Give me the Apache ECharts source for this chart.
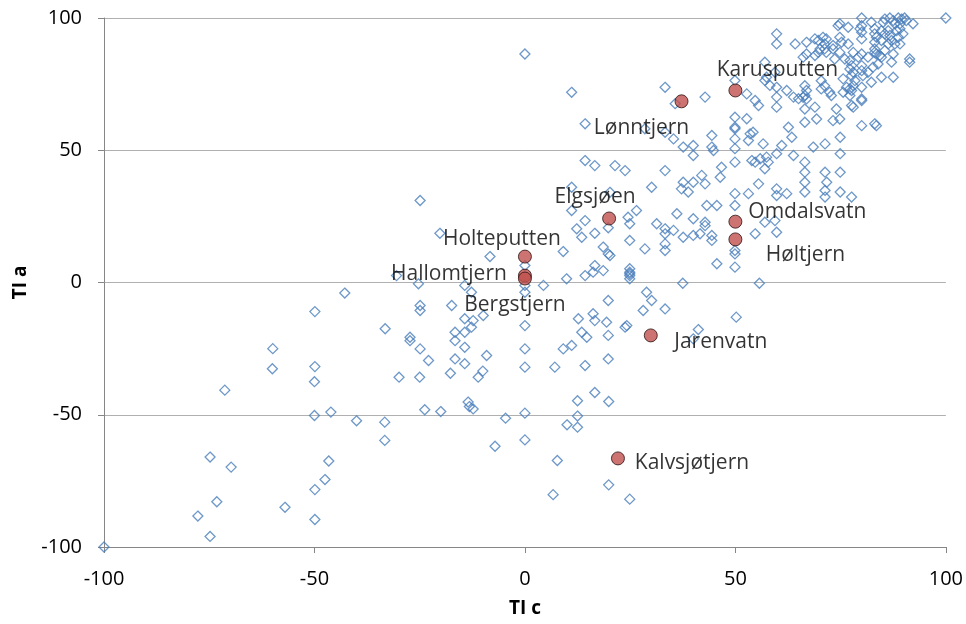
<!DOCTYPE html>
<html><head><meta charset="utf-8">
<script src="https://cdn.jsdelivr.net/npm/echarts@6/dist/echarts.min.js"></script>
<style>html,body{margin:0;padding:0;background:#fff}#c{width:966px;height:624px}</style>
</head><body><div id="c"></div>
<script>
// Axis ticks
const xTicks = [-100, -50, 0, 50, 100];
const yTicks = [-100, -50, 0, 50, 100];
const xName = 'TI c';
const yName = 'TI a';

// Named lakes (red points)
const lakeNames = ['Karusputten','Lønntjern','Elgsjøen','Omdalsvatn','Høltjern','Holteputten','Hallomtjern','Bergstjern','Jarenvatn','Kalvsjøtjern'];
const lakeTIc = [50, 37.2, 20, 50, 50, 0, 0, 0, 29.9, 22.1];
const lakeTIa = [72.6, 68.5, 24.2, 23, 16.3, 9.8, 2.6, 1.5, -20, -66.5];

// Other lakes (blue diamonds): [TI c, TI a]
const otherLakes = [
[80,100],[85.5,99.6],[86.7,100],[87.5,99],[88.7,100],[89.5,99.6],[90.2,100],[90.6,99],[92.2,97.8],[89.1,97.8],[87.9,97.8],[85.1,98.4],[82.3,98.4],[80,97.1],[79.6,95.9],[76.8,96.5],[74.8,97.8],[74.4,97.1],[83.1,95.9],[100,100],
[80,94.6],[80,92.1],[83.1,94],[83.5,92.7],[84.7,95.2],[85.5,94],[86.3,95.2],[86.7,93.4],[88.3,95.2],[89.1,95.9],[89.8,94],[88.7,92.7],[87.1,91.5],[84.7,91.5],[83.1,90.8],[86.3,90.2],[87.9,90.2],[89.1,90.2],[66.9,90.8],[68.9,92.1],[69.7,91.5],[70.8,92.7],[71.6,92.1],[71.2,90.2],[74.8,92.7],[75.2,90.8],[76.8,90.2],[73.2,89.6],
[70.1,88.3],[71.2,88.3],[71.6,87],[69.7,87],[73.2,88.3],[74.8,87],[78,87],[80,86.4],[83.1,88.3],[83.1,87],[83.5,86.4],[84.3,85.8],[85.5,87.7],[87.5,86.4],[84.7,85.2],[81.5,85.2],[79.2,85.2],[66.9,86.4],[66.1,85.2],[68.9,85.8],[73.6,84.5],[76,84.5],[77.2,83.9],[91.4,84.5],[91.4,83.3],[87.1,83.3],
[77.6,82],[77.2,80.7],[80,82],[82.7,81.4],[83.9,82.6],[80,80.1],[78,79.5],[77.6,78.2],[80.3,78.2],[81.5,79.5],[84.7,77.6],[87.5,77.6],[78.4,76.3],[82.3,75.7],[75.6,77],
[66.5,74.4],[66.9,72.6],[66.5,70.7],[66.9,69.4],[66.1,70],[70.4,76.3],[70.4,73.2],[71.2,74.4],[72.4,71.9],[72.8,70.7],[75.6,71.9],[76.4,73.8],[77.2,73.2],[77.6,72.6],[78,74.4],[80,73.8],[77.2,70.7],[80,69.4],
[66.5,65.6],[68.9,66.3],[74,65.6],[77.6,66.9],[78,66.3],[80,68.8],[66.5,60.6],[69.3,61.8],[73.2,61.2],[74.8,61.8],[80,59.3],[83.1,60],[83.5,59.3],
[59.8,94],[59.8,90.2],[64.2,90.2],[57,83.3],[57.4,77.6],[59.4,79.5],[57,76.4],
[49.9,76.4],[58.2,74.5],[59.8,73.8],[62.2,72.6],[42.8,70.1],[52.7,71.3],[59.8,70.1],[63.8,70.1],[65,69.5],[35.7,67.6],[54.7,68.8],[55.5,66.9],[59.8,66.3],[49.9,62.5],[52.7,61.9],[49.9,58.7],[49.9,58.1],
[54.2,56.8],[62.6,58.7],[63.4,54.9],[44.4,55.6],[35.3,54.3],[37.6,51.2],[40,51.8],[40,48],[44.4,51.2],[44.8,49.9],[49.9,54.3],[49.9,50.6],[53.1,53.7],[53.5,56.2],[56.6,52.4],[59.8,48.7],[61,51.8],[63.8,48],[37.6,37.9],[40,37.9],[42,40.5],[42.8,37.3],[46.4,39.8],[46.7,43.6],[49.9,45.5],[53.9,46.1],[54.7,45.5],[55.9,46.8],[57.4,47.4],[57.8,45.5],[57,43],[59.8,35.4],[62.2,33.6],[55.5,37.3],[49.9,33.6],[53.1,33.6],
[66.5,45.5],[66.5,41.7],[71.3,41.7],[74.9,41.7],[71.7,37.9],[66.5,37.9],[68.5,51.2],[71.3,52.4],[74.9,54.9],[74.9,48.7],
[0,86.4],[11.1,71.9],[33.3,73.8],[14.3,60],[28.5,58.1],[33.3,56.8],[14.3,46.1],[16.6,44.2],[21.4,44.2],[23.8,42.3],[33.3,42.3],[30.1,36],[11.1,36],[20.2,34.1],
[37.2,35.4],[38.8,34.2],[43.2,29.1],[45.6,29.1],[49.9,29.1],[59.8,32.9],[66.5,34.2],[71.3,34.8],[71.3,32.3],[74.9,34.2],[77.6,32.3],
[36.1,26],[40,24.1],[42.8,22.8],[42.8,21.5],[44.4,17.8],[44.4,15.9],[40,17.8],[41.6,18.4],[37.6,17.1],[35.3,19.7],[33.3,20.3],[33.3,18.4],[33.3,14.6],[33.3,12.1],
[49.9,12.1],[49.9,10.8],[45.6,7.1],[49.9,5.8],[54.7,18.4],[57,22.8],[59.4,23.4],[59.8,19],[37.5,-0.3],[55.7,-0.3],[33.3,-10],[50.2,-13.1],[41.2,-17.8],[40,-21.3],
[-24.9,31],[11.1,27.2],[14.3,23.4],[24.5,24.7],[26.5,27.2],[24.9,22.2],[31.3,22.2],[12.3,20.3],[13.5,17.1],[16.6,18.6],[19.8,20.7],[24.9,15.9],[28.5,12.7],[18.6,13.4],[19.8,10.8],[20.2,10.2],[9.1,11.7],[16.6,6.4],[16.2,3.9],[14.3,2.6],[18.6,4.5],[24.9,5.2],[24.9,3.9],[24.9,3.3],[24.9,2.6],[24.9,1.4],[9.9,1.4],[4.4,-1.1],[-8.3,9.8],[-20.2,18.6],[-25.3,-0.5],[-30.5,2.6],[-14.3,-1.1],[-12.7,-3.7],[0,6.4],[0,-1.1],[0,-3.7],[-17.4,-8.7],[-24.9,-8.7],[-24.9,-10.6],[-9.9,-12.5],[-14.3,-13.7],[-12.3,-14.4],[-12.7,-16.9],[-16.6,-18.8],[-16.6,-22],[-14.3,-18.8],[-33.2,-17.5],[-27.3,-20.7],[-27.3,-22],[-24.9,-25.1],[-22.9,-29.5],[-16.6,-28.9],[-14.3,-24.5],[-9.1,-27.6],[0,-16.3],[0,-25.1],[0,-32],[9.1,-25.1],[11.1,-23.8],[13.5,-18.8],[14.7,-20.7],[16.2,-11.8],[16.6,-14.4],[19.4,-15],[19.8,-20],[12.7,-13.7],[19.8,-6.8],[24.2,-16.3],[23.8,-16.9],[30.1,-6.8],[28.9,-3.7],[28.1,-10.6],[7.1,-32],[19.8,-28.9],
[-42.8,-4],[-49.9,-11],[-59.9,-25],[-60,-32.6],[-49.9,-31.8],
[-50,-37.5],[-71.3,-40.7],[-50,-50.3],[-46.1,-49],[-40,-52.3],[-33.3,-52.8],[-33.3,-59.7],[-74.8,-66],[-69.8,-69.8],[-46.6,-67.5],[-47.5,-74.5],[-49.9,-78.3],[-73.2,-82.9],[-57,-85],[-77.7,-88.3],[-49.9,-89.6],[-74.8,-96],[-100,-100],
[-14.3,-30.7],[-29.9,-35.8],[-25,-35.8],[-17.7,-34.3],[-11.1,-35.8],[-10,-33.5],[14.3,-31.4],[16.6,-41.6],[12.5,-44.7],[19.9,-45],[-23.8,-48.1],[-20,-48.8],[-13.5,-45.2],[-13.2,-46.9],[-12.3,-47.8],[-4.6,-51.3],[0,-49.4],[10,-53.8],[12.5,-50.5],[12.5,-54.7],[-7.1,-61.9],[0,-59.5],[7.7,-67.3],[19.9,-76.5],[6.7,-80.2],[24.9,-81.9]
];

// Label placement (pixel offsets of label centre from point) - layout only
const labelOffsets = [[42,-20],[-40,27],[-14,-21],[72,-10],[70,16],[-23,-18],[-76,-2],[-10,26],[70,7],[74,5]];

const FONT = '"Open Sans", "Noto Sans", sans-serif';
const chart = echarts.init(document.getElementById('c'), null, {renderer: 'canvas'});
const lakeData = lakeNames.map((n, i) => ({
  name: n,
  value: [lakeTIc[i], lakeTIa[i]],
  label: {show: true, position: 'inside', offset: labelOffsets[i], formatter: n,
          color: '#000000', fontFamily: FONT, fontSize: 21, align: 'center', verticalAlign: 'middle',
          textBorderWidth: 0}
}));
chart.setOption({
  animation: false,
  backgroundColor: '#ffffff',
  grid: {left: 104, right: 20, top: 18, bottom: 77, containLabel: false},
  xAxis: {
    type: 'value', min: xTicks[0], max: xTicks[xTicks.length-1], interval: 50,
    name: xName, nameLocation: 'middle', nameGap: 52,
    nameTextStyle: {fontFamily: FONT, fontSize: 19, fontWeight: 'bold', color: '#000'},
    axisLine: {show: true, onZero: false, lineStyle: {color: '#868686', width: 1}},
    axisTick: {show: true, length: 6, lineStyle: {color: '#868686'}},
    axisLabel: {fontFamily: FONT, fontSize: 20, color: '#000', margin: 22},
    splitLine: {show: false}
  },
  yAxis: {
    type: 'value', min: yTicks[0], max: yTicks[yTicks.length-1], interval: 50,
    name: yName, nameLocation: 'middle', nameGap: 53, nameRotate: 90,
    nameTextStyle: {fontFamily: FONT, fontSize: 19, fontWeight: 'bold', color: '#000'},
    axisLine: {show: true, onZero: false, lineStyle: {color: '#868686', width: 1}},
    axisTick: {show: true, length: 6, lineStyle: {color: '#868686'}},
    axisLabel: {fontFamily: FONT, fontSize: 20, color: '#000', margin: 22},
    splitLine: {show: true, lineStyle: {color: '#b0b0b0', width: 1}}
  },
  series: [
    {
      type: 'scatter', name: 'others', data: otherLakes,
      symbol: 'diamond', symbolSize: 10,
      itemStyle: {color: 'rgba(0,0,0,0)', borderColor: '#4a7ebb', borderWidth: 1.3},
      z: 2, silent: true
    },
    {
      type: 'scatter', name: 'named', data: lakeData,
      symbol: 'circle', symbolSize: 13,
      itemStyle: {color: '#c0504d', borderColor: '#2b1313', borderWidth: 1},
      z: 3, silent: true
    }
  ]
});
</script>
</body></html>
